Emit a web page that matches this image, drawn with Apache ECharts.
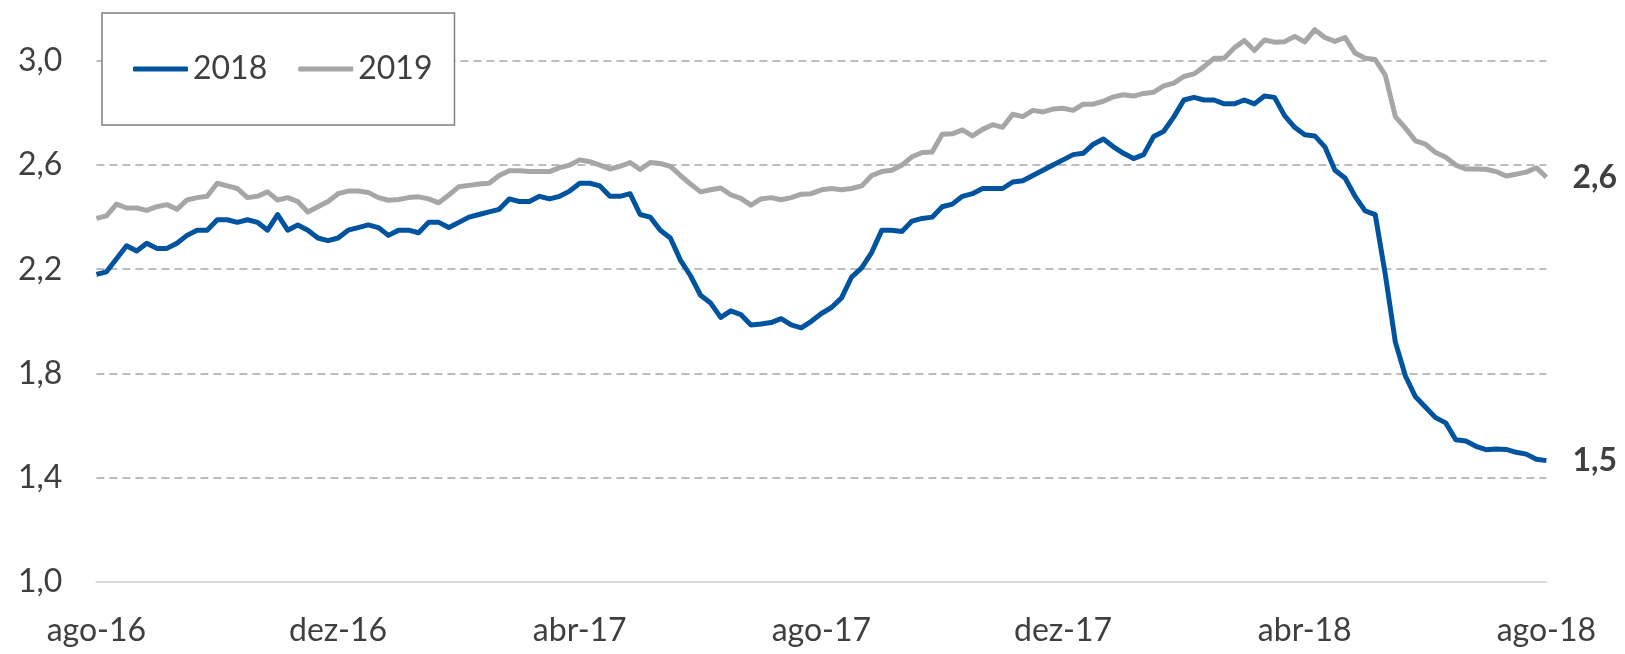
<!DOCTYPE html>
<html>
<head>
<meta charset="utf-8">
<title>2018 / 2019</title>
<script src="https://cdn.jsdelivr.net/npm/echarts@6/dist/echarts.min.js"></script>
<style>
    html, body { margin: 0; padding: 0; background: #fff; }
    .chart { width: 1625px; height: 654px; }
</style>
</head>
<body>
<div class="chart"></div>
<script>
// rótulos do eixo x (a cada 24 pontos)
var tickLabels = ['ago-16', 'dez-16', 'abr-17', 'ago-17', 'dez-17', 'abr-18', 'ago-18'];
var labelStep = 24;
// projeções
var s2018 = [
    2.18, 2.19, 2.24, 2.29, 2.27, 2.30, 2.28, 2.28, 2.30, 2.33,
    2.35, 2.35, 2.39, 2.39, 2.38, 2.39, 2.38, 2.35, 2.41, 2.35,
    2.37, 2.35, 2.32, 2.31, 2.32, 2.35, 2.36, 2.37, 2.36, 2.33,
    2.35, 2.35, 2.34, 2.38, 2.38, 2.36, 2.38, 2.40, 2.41, 2.42,
    2.43, 2.47, 2.46, 2.46, 2.48, 2.47, 2.48, 2.50, 2.53, 2.53,
    2.52, 2.48, 2.48, 2.49, 2.41, 2.40, 2.35, 2.32, 2.235, 2.175,
    2.10, 2.07, 2.015, 2.04, 2.026, 1.986, 1.99, 1.995, 2.01, 1.986,
    1.975, 2.00, 2.03, 2.053, 2.09, 2.17, 2.205, 2.265, 2.35, 2.35,
    2.345, 2.385, 2.395, 2.40, 2.44, 2.45, 2.48, 2.49, 2.51, 2.51,
    2.51, 2.535, 2.54, 2.56, 2.58, 2.60, 2.62, 2.64, 2.645, 2.68,
    2.70, 2.67, 2.645, 2.625, 2.64, 2.71, 2.73, 2.785, 2.85, 2.86,
    2.85, 2.85, 2.835, 2.835, 2.85, 2.835, 2.865, 2.86, 2.79, 2.745,
    2.716, 2.712, 2.67, 2.58, 2.55, 2.48, 2.424, 2.41, 2.18, 1.92,
    1.79, 1.71, 1.67, 1.63, 1.61, 1.545, 1.54, 1.52, 1.507, 1.51,
    1.508, 1.497, 1.49, 1.47, 1.465
];
var s2019 = [
    2.395, 2.405, 2.45, 2.435, 2.435, 2.426, 2.44, 2.448, 2.43, 2.466,
    2.475, 2.48, 2.53, 2.52, 2.51, 2.475, 2.48, 2.497, 2.466, 2.475,
    2.46, 2.42, 2.44, 2.46, 2.49, 2.50, 2.50, 2.495, 2.475, 2.465,
    2.468, 2.475, 2.478, 2.47, 2.455, 2.485, 2.517, 2.522, 2.527, 2.53,
    2.56, 2.578, 2.578, 2.575, 2.575, 2.575, 2.59, 2.60, 2.62, 2.613,
    2.60, 2.585, 2.595, 2.61, 2.583, 2.61, 2.606, 2.595, 2.56, 2.527,
    2.497, 2.505, 2.512, 2.486, 2.472, 2.446, 2.47, 2.475, 2.467, 2.475,
    2.488, 2.49, 2.505, 2.51, 2.505, 2.51, 2.52, 2.56, 2.575, 2.58,
    2.60, 2.632, 2.648, 2.65, 2.718, 2.72, 2.735, 2.712, 2.737, 2.755,
    2.745, 2.795, 2.786, 2.81, 2.804, 2.815, 2.818, 2.81, 2.834, 2.834,
    2.845, 2.862, 2.87, 2.865, 2.875, 2.88, 2.904, 2.915, 2.94, 2.95,
    2.978, 3.01, 3.01, 3.05, 3.078, 3.04, 3.08, 3.072, 3.074, 3.094,
    3.073, 3.12, 3.09, 3.075, 3.09, 3.03, 3.01, 3.005, 2.945, 2.786,
    2.742, 2.693, 2.68, 2.648, 2.63, 2.60, 2.585, 2.585, 2.584, 2.575,
    2.558, 2.565, 2.573, 2.59, 2.553
];

(function () {
    var myChart = echarts.init(document.querySelector('.chart'));
    var textColor = '#3f3f3f';
    // categorias = índice de cada ponto
    var categories = s2018.map(function (v, i) { return String(i); });
    function fmt(v) {
        return Number(v).toFixed(1).replace('.', ',');
    }

    var option = {
        animation: false,
        textStyle: { fontFamily: 'Lato' },
        legend: {
            data: ['2018', '2019'],
            left: 102,
            top: 13,
            padding: [40, 22, 40, 31],
            itemGap: 31,
            itemWidth: 55,
            itemHeight: 5,
            icon: 'roundRect',
            borderColor: '#7f7f7f',
            borderWidth: 1.5,
            backgroundColor: '#fff',
            textStyle: { fontSize: 32, color: textColor, fontFamily: 'Lato' }
        },
        grid: {
            left: 96.4,
            right: 78.6,
            top: 60.9,
            bottom: 72.3,
            containLabel: false
        },
        xAxis: {
            type: 'category',
            data: categories,
            boundaryGap: false,
            axisLine: { lineStyle: { color: '#d9d9d9', width: 2 } },
            axisTick: { show: false },
            axisLabel: {
                interval: labelStep - 1,
                margin: 33,
                fontSize: 32,
                lineHeight: 32,
                color: textColor,
                formatter: function (value, index) {
                    return tickLabels[Math.round(index / labelStep)] || '';
                }
            },
            splitLine: { show: false }
        },
        yAxis: {
            type: 'value',
            min: 1.0,
            max: 3.0,
            interval: 0.4,
            axisLine: { show: false },
            axisTick: { show: false },
            axisLabel: {
                margin: 34,
                fontSize: 32,
                color: textColor,
                formatter: fmt
            },
            splitLine: {
                showMinLine: false,
                lineStyle: { color: '#a6a6a6', width: 1.5, type: [8, 5] }
            }
        },
        series: [
            {
                name: '2019',
                type: 'line',
                data: s2019,
                showSymbol: false,
                symbol: 'none',
                clip: false,
                color: '#a6a6a6',
                lineStyle: { color: '#a6a6a6', width: 5, join: 'round' },
                endLabel: {
                    show: true,
                    distance: 26,
                    fontSize: 32,
                    fontWeight: 'bold',
                    color: textColor,
                    formatter: function (p) { return fmt(p.value); }
                }
            },
            {
                name: '2018',
                type: 'line',
                data: s2018,
                showSymbol: false,
                symbol: 'none',
                clip: false,
                color: '#00549f',
                lineStyle: { color: '#00549f', width: 5, join: 'round' },
                endLabel: {
                    show: true,
                    distance: 26,
                    fontSize: 32,
                    fontWeight: 'bold',
                    color: textColor,
                    formatter: function (p) { return fmt(p.value); }
                }
            }
        ]
    };
    myChart.setOption(option);
    window.addEventListener('resize', function () {
        myChart.resize();
    });
})();
</script>
</body>
</html>
